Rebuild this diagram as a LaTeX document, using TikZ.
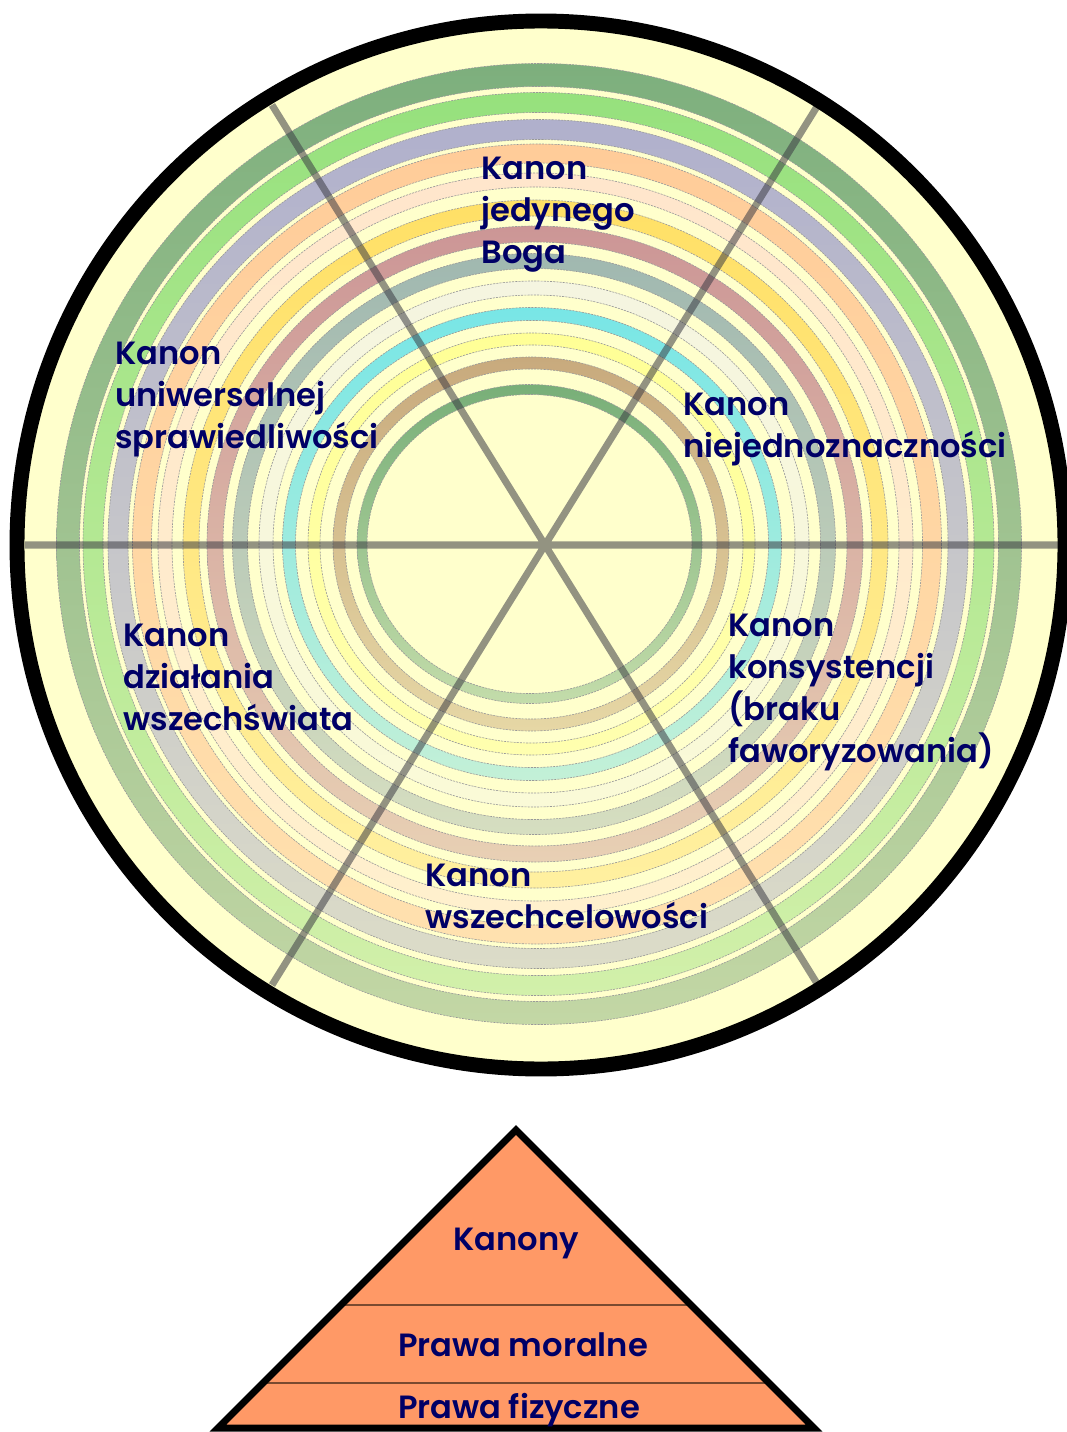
\documentclass[tikz,border=0pt]{standalone}
\usepackage{fontspec}
\setmainfont{Poppins}[BoldFont={Poppins SemiBold}]
\usetikzlibrary{calc,positioning}
\definecolor{bgyellow}{HTML}{FFFFCC}
\definecolor{navy}{HTML}{000066}
\definecolor{pyrfill}{HTML}{FF9966}
\definecolor{tierbrown}{HTML}{7A4A30}
\definecolor{spokegrey}{HTML}{3C3C44}
% ring colours, top / bottom of each ring
\definecolor{dgreenT}{HTML}{7DAF7D}  \definecolor{dgreenB}{HTML}{C3D7A5}
\definecolor{lgreenT}{HTML}{96E17D}  \definecolor{lgreenB}{HTML}{D2F0AA}
\definecolor{lavenderT}{HTML}{B0B0CC}\definecolor{lavenderB}{HTML}{DCDCC8}
\definecolor{peachT}{HTML}{FFCC99}   \definecolor{peachB}{HTML}{FFE1AF}
\definecolor{lpeachT}{HTML}{FFE6CC}  \definecolor{lpeachB}{HTML}{FFF0CD}
\definecolor{yellowT}{HTML}{FFE066}  \definecolor{yellowB}{HTML}{FFF0A0}
\definecolor{roseT}{HTML}{CC9696}    \definecolor{roseB}{HTML}{E8D0B4}
\definecolor{sageT}{HTML}{A0B8B0}    \definecolor{sageB}{HTML}{D6DEC0}
\definecolor{creamT}{HTML}{F5F5E0}   \definecolor{creamB}{HTML}{FAFAD7}
\definecolor{cyanT}{HTML}{78E6E6}    \definecolor{cyanB}{HTML}{C3F0D7}
\definecolor{pyellowT}{HTML}{FFFF96} \definecolor{pyellowB}{HTML}{FFFFAF}
\definecolor{tanT}{HTML}{C8AA7D}     \definecolor{tanB}{HTML}{E6D7A5}
\definecolor{igreenT}{HTML}{78AF78}  \definecolor{igreenB}{HTML}{C3DCAA}
\tikzset{%
	ring/.style     = {even odd rule},
	ringedge/.style = {draw=black!40, line width=0.35pt, dash pattern=on 1.2pt off 0.6pt},
	spoke/.style    = {draw=spokegrey, draw opacity=0.55, line width=4pt},
	rim/.style      = {draw=black, line width=8.5pt},
	canon/.style    = {anchor=north west, inner sep=0pt, align=left, text=navy, font=\fontsize{18.3}{23.9}\selectfont\bfseries},
	tier/.style     = {anchor=base, inner sep=0pt, text=navy, font=\fontsize{18.3}{23.9}\selectfont\bfseries},
	tierline/.style = {draw=tierbrown, line width=0.8pt},
}

\begin{document}
\begin{tikzpicture}[x=0.02cm, y=-0.02cm]
	\clip (0,0) rectangle (1067,1432);
	\fill[white] (0,0) rectangle (1067,1432);
	% wheel
	\coordinate (rim) at (541,545);
	\coordinate (hub) at (544,545);
	\fill[bgyellow] (rim) ellipse [x radius=524, y radius=524];
	\foreach \cx/\rx/\ry/\w/\ct/\cb in {539/471/469/23/dgreenT/dgreenB, 538.5/445.5/441.5/20/lgreenT/lgreenB,
		538/420/414.5/20/lavenderT/lavenderB, 537/395/390.5/19/peachT/peachB,
		535.5/370.5/364/14/lpeachT/lpeachB, 535.5/344.5/336/16/yellowT/yellowB,
		535/320/310/16/roseT/roseB, 534/294/283/15/sageT/sageB,
		534/268/256/14/creamT/creamB, 532/243/230/13/cyanT/cyanB,
		531.5/217.5/205/12/pyellowT/pyellowB, 531/192/181/12/tanT/tanB,
		529.5/167.5/154.5/10/igreenT/igreenB}{
		\shade[ring, top color=\ct, bottom color=\cb]
			(\cx,544) ellipse [x radius=\rx+\w/2, y radius=\ry+\w/2]
			(\cx,544) ellipse [x radius=\rx-\w/2, y radius=\ry-\w/2];
		\draw[ringedge]
			(\cx,544) ellipse [x radius=\rx+\w/2, y radius=\ry+\w/2]
			(\cx,544) ellipse [x radius=\rx-\w/2, y radius=\ry-\w/2];
	}
	\coordinate (w) at (25,545);
	\coordinate (e) at (1062,545);
	\coordinate (nw) at (272,105);
	\coordinate (ne) at (818,105);
	\coordinate (sw) at (272,985);
	\coordinate (se) at (818,985);
	\path[spoke] (w) -- (e) (nw) -- (se) (ne) -- (sw);
	\draw[rim] (rim) ellipse [x radius=524, y radius=524];
	\node[canon] (jedynego) at (481,157) {Kanon\\jedynego\\Boga};
	\node[canon] (uniwersalnej) at (115,342) {Kanon\\uniwersalnej\\sprawiedliwości};
	\node[canon] (niejedno) at (683,393) {Kanon\\niejednoznaczności};
	\node[canon] (dzialania) at (123,624) {Kanon\\działania\\wszechświata};
	\node[canon] (konsyst) at (728,614) {Kanon\\konsystencji\\(braku\\faworyzowania)};
	\node[canon] (wszechcel) at (425,864) {Kanon\\wszechcelowości};
	% pyramid
	\coordinate (apex) at (516,1130);
	\coordinate (bl) at (218,1428);
	\coordinate (br) at (814,1428);
	\fill[pyrfill] (apex) -- (br) -- (bl) -- cycle;
	\draw[tierline] ($(apex)!0.587!(bl)$) -- ($(apex)!0.587!(br)$);
	\draw[tierline] ($(apex)!0.849!(bl)$) -- ($(apex)!0.849!(br)$);
	\draw[line width=4pt] (apex) -- (br) -- (bl) -- cycle;
	\node[tier] (kanony) at (516,1250) {Kanony};
	\node[tier] (moralne) at (523,1356) {Prawa moralne};
	\node[tier] (fizyczne) at (519,1418) {Prawa fizyczne};
\end{tikzpicture}
\end{document}
